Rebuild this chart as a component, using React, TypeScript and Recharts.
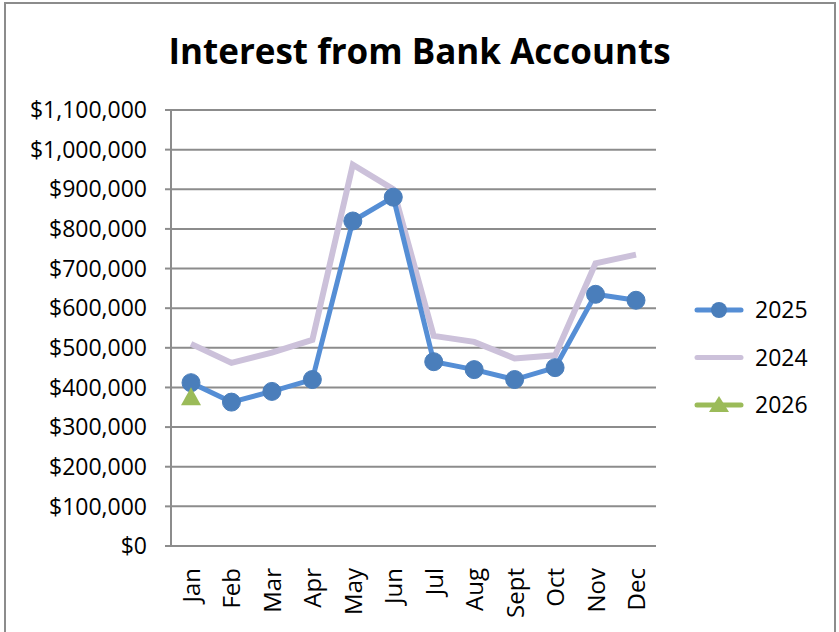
import { CartesianGrid, Legend, Line, LineChart, XAxis, YAxis } from "recharts";

const months = ["Jan", "Feb", "Mar", "Apr", "May", "Jun", "Jul", "Aug", "Sept", "Oct", "Nov", "Dec"];
const y2025 = [412000, 363000, 390000, 420000, 820000, 880000, 465000, 445000, 420000, 450000, 635000, 620000];
const y2024 = [510000, 462000, 488000, 520000, 962000, 900000, 530000, 515000, 473000, 481000, 713000, 735000];
const y2026: (number | null)[] = [375000, null, null, null, null, null, null, null, null, null, null, null];
const yTicks = [0, 100000, 200000, 300000, 400000, 500000, 600000, 700000, 800000, 900000, 1000000, 1100000];

const data = months.map((m, i) => ({ month: m, y2025: y2025[i], y2024: y2024[i], y2026: y2026[i] }));

const FONT = "'Open Sans', sans-serif";
const BLUE = "#558ed5";
const BLUE_DOT = "#4a7ebb";
const LILAC = "#ccc1da";
const GREEN = "#9bbb59";
const GRID = "#8c8c8c";

const fmt = (v: number) => "$" + v.toLocaleString("en-US");

function MonthTick({ x, y, payload }: any) {
  return (
    <text
      transform={`translate(${x + 9},${y + 14}) rotate(-90)`}
      textAnchor="end"
      fontFamily={FONT}
      fontSize={24}
      fill="#000"
    >
      {payload.value}
    </text>
  );
}

function Triangle({ cx, cy }: any) {
  if (cx == null || cy == null) return null;
  return <polygon points={`${cx},${cy - 10} ${cx + 10},${cy + 8} ${cx - 10},${cy + 8}`} fill={GREEN} />;
}

function LegendBox() {
  const rows = [
    { name: "2025", color: BLUE, mark: "dot" },
    { name: "2024", color: LILAC, mark: "none" },
    { name: "2026", color: GREEN, mark: "tri" },
  ];
  return (
    <svg width={175} height={140}>
      {rows.map((r, i) => {
        const cy = 20 + i * 47.5;
        return (
          <g key={r.name}>
            <line x1={41} x2={85} y1={cy} y2={cy} stroke={r.color} strokeWidth={5} strokeLinecap="round" />
            {r.mark === "dot" && <circle cx={63} cy={cy} r={8} fill={BLUE_DOT} />}
            {r.mark === "tri" && <polygon points={`63,${cy - 9} 73,${cy + 7} 53,${cy + 7}`} fill={GREEN} />}
            <text x={99} y={cy + 8} fontFamily={FONT} fontSize={23} fill="#000">
              {r.name}
            </text>
          </g>
        );
      })}
    </svg>
  );
}

export default function App() {
  return (
    <div style={{ position: "fixed", left: 0, top: 0, width: 839, height: 632, background: "#fff", overflow: "hidden" }}>
      <div
        style={{
          position: "absolute",
          left: 4,
          top: 2,
          width: 828,
          height: 660,
          border: "2px solid #8c8c8c",
        }}
      />
      <div
        style={{
          position: "absolute",
          left: 0,
          top: 27,
          width: 839,
          textAlign: "center",
          fontFamily: FONT,
          fontWeight: 700,
          fontSize: 35,
          lineHeight: "48px",
          color: "#000",
        }}
      >
        Interest from Bank Accounts
      </div>
      <div style={{ position: "absolute", left: 0, top: 0 }}>
        <LineChart width={839} height={632} data={data} margin={{ top: 110, right: 8, bottom: 0, left: 0 }}>
          <CartesianGrid vertical={false} stroke={GRID} strokeWidth={2} />
          <XAxis
            dataKey="month"
            padding={{ left: 20, right: 20 }}
            tickLine={false}
            axisLine={{ stroke: GRID, strokeWidth: 2 }}
            tick={<MonthTick />}
            interval={0}
            height={86}
          />
          <YAxis
            width={171}
            domain={[0, 1100000]}
            ticks={yTicks}
            interval={0}
            tickFormatter={fmt}
            tickSize={6}
            tickMargin={18}
            tickLine={{ stroke: GRID, strokeWidth: 2 }}
            axisLine={{ stroke: GRID, strokeWidth: 2 }}
            tick={{ fill: "#000", fontFamily: FONT, fontSize: 23 }}
          />
          <Legend
            layout="vertical"
            align="right"
            verticalAlign="middle"
            content={() => <LegendBox />}
            wrapperStyle={{ top: 290, width: 175 }}
          />
          <Line
            dataKey="y2024"
            name="2024"
            stroke={LILAC}
            strokeWidth={6}
            dot={false}
            activeDot={false}
            isAnimationActive={false}
          />
          <Line
            dataKey="y2025"
            name="2025"
            stroke={BLUE}
            strokeWidth={5}
            dot={{ r: 9, fill: BLUE_DOT, stroke: BLUE_DOT, strokeWidth: 1 }}
            activeDot={false}
            isAnimationActive={false}
          />
          <Line
            dataKey="y2026"
            name="2026"
            stroke={GREEN}
            strokeWidth={5}
            dot={<Triangle />}
            activeDot={false}
            isAnimationActive={false}
          />
        </LineChart>
      </div>
    </div>
  );
}
